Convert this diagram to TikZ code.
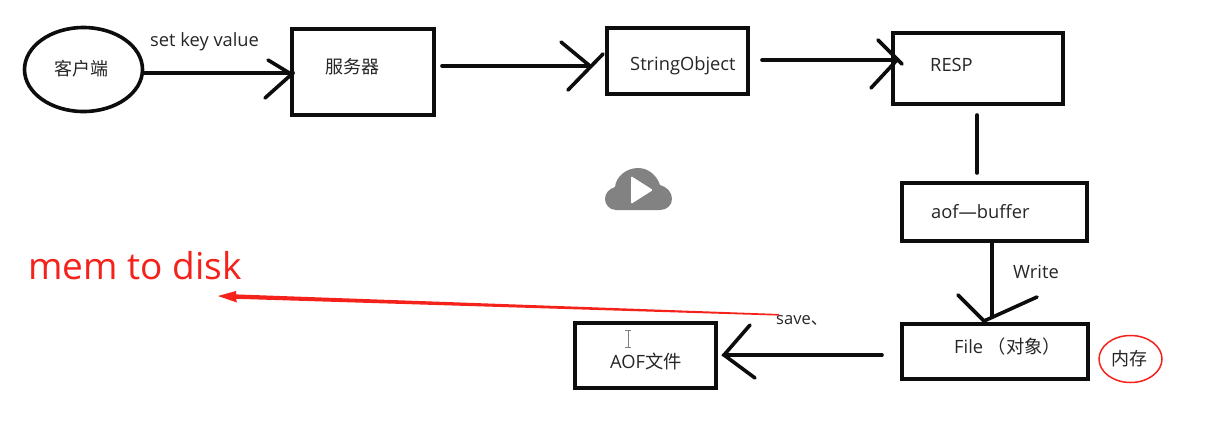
\documentclass[tikz,border=0pt]{standalone}
\usepackage{fontspec}
\setmainfont{Open Sans}
\newfontfamily\cjk{Noto Sans CJK SC}
\usetikzlibrary{shapes.geometric,calc}
\definecolor{ink}{HTML}{0D0D0D}
\definecolor{txt}{HTML}{262626}
\definecolor{redline}{HTML}{F5221B}
\tikzset{
  x=1pt,y=-1pt,
  stroke/.style={draw=ink,line width=3.6pt,line cap=round},
  boxa/.style={draw=ink,line width=4pt,fill=white,inner sep=0pt},
  txtl/.style={text=txt,font=\fontsize{18.3}{20}\selectfont,inner sep=0pt,anchor=west},
  txtc/.style={text=txt,font=\cjk\fontsize{18}{20}\selectfont,inner sep=0pt},
}
\newcommand{\bx}[5]{\node[boxa,minimum width=#4pt-#2pt-4pt,minimum height=#5pt-#3pt-4pt] (#1) at ({(#2+#4)/2},{(#3+#5)/2}) {};}
\begin{document}
\begin{tikzpicture}
\useasboundingbox (0,0) rectangle (1207,424);
\fill[white] (0,0) rectangle (1207,424);
% shapes
\node[ellipse,draw=ink,line width=3.6pt,minimum width=118pt,minimum height=84pt,inner sep=0pt] (client) at (83.5,69.5) {};
\bx{server}{290}{27}{436}{117}
\bx{strobj}{605}{26}{750}{96}
\bx{resp}{891}{31}{1065}{106}
\bx{aofbuf}{900}{181}{1089}{243}
\bx{filebox}{900}{322}{1090}{381}
\bx{aoffile}{573}{321}{718}{390}
\node[ellipse,draw=redline,line width=1.5pt,minimum width=63pt,minimum height=47pt,inner sep=0pt] (mem) at (1130.5,359) {};
% texts
\node[txtc] (tclient) at (81.5,69) {客户端};
\node[txtc] (tserver) at (352,67) {服务器};
\node[txtl] (tset) at (150,42) {set key value};
\node[txtl] (tstr) at (630,65.5) {StringObject};
\node[txtl] (tresp) at (930,65) {RESP};
\node[txtl] (taof) at (931,212) {aof—buffer};
\node[txtl] (twrite) at (1013,272) {Write};
\node[txtl,anchor=base west] (tfile) at (954,353) {File {\cjk （对象）}};
\node[txtl,font=\fontsize{16.5}{18}\selectfont] (tsave) at (776,320) {save{\cjk 、}};
\node[txtl,anchor=base west] (taoff) at (610,368) {AOF{\cjk 文件}};
\node[txtc] (tmem) at (1129.5,359) {内存};
\node[text=redline,font=\fontsize{37}{42}\selectfont,inner sep=0pt,anchor=west] (tdisk) at (28,266) {mem to disk};
% connector ends
\coordinate (c1a) at (144,73); \coordinate (c1b) at (293,73);
\coordinate (c2a) at (442,66); \coordinate (c2b) at (590,66);
\coordinate (c3a) at (762,60); \coordinate (c3b) at (897,60);
\coordinate (c4a) at (977,115); \coordinate (c4b) at (977,173);
\coordinate (c5a) at (992,243); \coordinate (c5b) at (984,321);
\coordinate (c6a) at (882,355); \coordinate (c6b) at (724,355);
% connectors with hand-drawn heads
\draw[stroke] (c1a) -- (c1b);
\draw[stroke] (268,60) -- (291,74) (265,98) -- (c1b);
\draw[stroke] (c2a) -- (c2b);
\draw[stroke] (561,42) -- (c2b) (568,90) -- (603,54);
\draw[stroke] (c3a) -- (c3b);
\draw[stroke] (878,40) -- (902,64) (871,88) -- (c3b);
\draw[stroke] (c4a) -- (c4b);
\draw[stroke] (992,243) -- (992,317);
\draw[stroke] (958,295) -- (c5b) -- (1037,297);
\draw[stroke] (c6a) -- (c6b);
\draw[stroke] (750,325) -- (c6b) -- (755,378);
% red tapered arrow
\fill[redline] (779,315.6) -- (236,298.8) -- (237,302.5) -- (218,296) -- (236,291) -- (236,294.4) -- (779,314) -- cycle;
% play icon
\fill[gray!98] (616,210) .. controls (609,210) and (605,204) .. (605,199) .. controls (605,193) and (609,189) .. (615,187) .. controls (616,176) and (627,168) .. (638,168) .. controls (649,168) and (657,176) .. (660,185) .. controls (667,187) and (672,192) .. (672,199) .. controls (672,205) and (667,210) .. (660,210) -- cycle;
\fill[white,rounded corners=1.2pt] (631,176) -- (653,190) -- (631,204) -- cycle;
% text cursor
\draw[gray,line width=.8pt] (625,330.5) -- (631,330.5) (628,330.5) -- (628,347.5) (625,347.5) -- (631,347.5);
\end{tikzpicture}
\end{document}
